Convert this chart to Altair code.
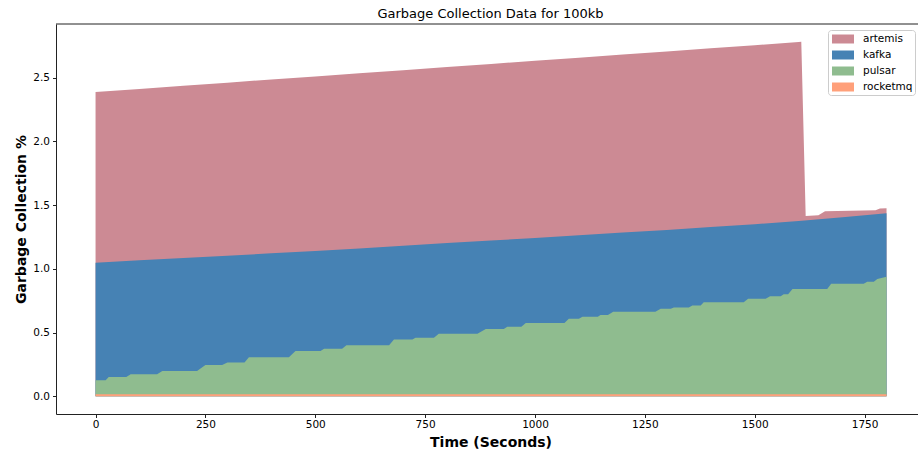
import altair as alt
import pandas as pd

FONT = "DejaVu Sans"

# Series order (legend order) and fill colours
series_names = ["artemis", "kafka", "pulsar", "rocketmq"]
series_colors = ["#cc8a94", "#4682b4", "#8fbc8f", "#ffa07a"]

# Time vertices (seconds) and the stacked top of each band (GC %)
rocketmq_t = [0, 1800]
rocketmq_top = [0.016, 0.016]

pulsar_t = [0, 23, 30, 70, 80, 140, 152, 231, 250, 288, 300, 339, 349, 440,
            455, 512, 520, 561, 571, 668, 679, 721, 728, 770, 781, 869, 888,
            929, 937, 969, 979, 1067, 1077, 1100, 1108, 1143, 1149, 1166, 1178,
            1274, 1286, 1309, 1316, 1350, 1358, 1377, 1384, 1475, 1485, 1525,
            1535, 1559, 1566, 1576, 1586, 1665, 1674, 1748, 1756, 1771, 1779,
            1800]
pulsar_top = [0.126, 0.126, 0.152, 0.152, 0.173, 0.173, 0.199, 0.199, 0.246,
              0.246, 0.265, 0.265, 0.307, 0.307, 0.356, 0.356, 0.372, 0.372,
              0.401, 0.401, 0.446, 0.446, 0.459, 0.459, 0.490, 0.490, 0.527,
              0.527, 0.545, 0.545, 0.574, 0.574, 0.608, 0.608, 0.624, 0.624,
              0.637, 0.637, 0.663, 0.663, 0.686, 0.686, 0.697, 0.697, 0.713,
              0.713, 0.737, 0.737, 0.765, 0.765, 0.784, 0.784, 0.800, 0.800,
              0.841, 0.841, 0.883, 0.883, 0.899, 0.899, 0.920, 0.938]

kafka_t = [0, 100, 200, 300, 400, 500, 600, 700, 800, 900, 1000, 1100, 1200,
           1300, 1400, 1500, 1600, 1700, 1800]
kafka_top = [1.048, 1.066, 1.084, 1.102, 1.121, 1.140, 1.160, 1.181, 1.202,
             1.222, 1.242, 1.263, 1.284, 1.305, 1.327, 1.350, 1.375, 1.405,
             1.435]

artemis_t = [0, 100, 200, 300, 400, 500, 600, 700, 800, 900, 1000, 1100, 1200,
             1300, 1400, 1500, 1600, 1606, 1616, 1645, 1660, 1775, 1785, 1800]
artemis_top = [2.387, 2.411, 2.436, 2.460, 2.485, 2.509, 2.534, 2.558, 2.583,
               2.607, 2.632, 2.656, 2.681, 2.705, 2.730, 2.754, 2.779, 2.781,
               1.415, 1.420, 1.452, 1.460, 1.472, 1.475]

x_ticks = [0, 250, 500, 750, 1000, 1250, 1500, 1750]
y_ticks = [0.0, 0.5, 1.0, 1.5, 2.0, 2.5]

W, H = 862, 390
x_scale = alt.Scale(domain=[-90, 1871.6], nice=False, zero=False)
y_scale = alt.Scale(domain=[-0.139, 2.92], nice=False, zero=False)
color_scale = alt.Scale(domain=series_names, range=series_colors)

x_axis = alt.Axis(values=x_ticks, format="d", title="Time (Seconds)",
                  titleX=434.5, titleY=32, titleAlign="center",
                  titleBaseline="alphabetic")
y_axis = alt.Axis(values=y_ticks, format=".1f", title="Garbage Collection %",
                  titleX=-31, titleY=195, titleAlign="center",
                  titleBaseline="alphabetic", titleAngle=270)


def band(name, ts, tops):
    df = pd.DataFrame({"t": ts, "v": tops, "series": name})
    return alt.Chart(df).mark_area(interpolate="linear").encode(
        x=alt.X("t:Q", scale=x_scale, axis=x_axis),
        y=alt.Y("v:Q", scale=y_scale, axis=y_axis, stack=False),
        color=alt.Color(
            "series:N", scale=color_scale,
            legend=alt.Legend(title=None, orient="none", legendX=772,
                              legendY=6),
        ),
    )


# bands drawn back to front, each filled from zero up to its stacked top
layers = [
    band("artemis", artemis_t, artemis_top),
    band("kafka", kafka_t, kafka_top),
    band("pulsar", pulsar_t, pulsar_top),
    band("rocketmq", rocketmq_t, rocketmq_top),
]

# top spine of the frame
top_spine = alt.Chart(pd.DataFrame({"k": [0]})).mark_rule(
    color="#222222", strokeWidth=1
).encode(x=alt.value(0), x2=alt.value(W), y=alt.value(0))

chart = alt.layer(*layers, top_spine).properties(
    width=W,
    height=H,
    title=alt.TitleParams(
        "Garbage Collection Data for 100kb", font=FONT, fontSize=13,
        fontWeight="normal", anchor="middle", frame="group",
        baseline="alphabetic", offset=6, dx=3.5, dy=13, color="#000000",
    ),
    autosize=alt.AutoSizeParams(type="none"),
    padding={"left": 56, "top": 24, "right": 0, "bottom": 38},
).configure(
    background="white",
).configure_view(
    stroke="transparent",
).configure_axis(
    grid=False,
    domainColor="#222222",
    domainWidth=1,
    tickColor="#222222",
    tickSize=3.5,
    tickWidth=1,
    labelFont=FONT,
    labelFontSize=10.5,
    labelColor="#000000",
    titleFont=FONT,
    titleFontSize=14,
    titleFontWeight="bold",
    titleColor="#000000",
).configure_axisX(
    labelPadding=1.5,
).configure_axisY(
    labelPadding=3,
).configure_legend(
    padding=2,
    rowPadding=3,
    symbolType="M-1.571,-0.643H1.571V0.643H-1.571Z",
    symbolSize=196,
    symbolOffset=6,
    symbolStrokeWidth=0,
    symbolOpacity=1,
    labelOffset=13,
    labelFont=FONT,
    labelFontSize=10.5,
    labelColor="#000000",
    strokeColor="#cccccc",
    fillColor="white",
    cornerRadius=3,
)

chart.save("out.html", embed_options={"renderer": "svg", "actions": False})
